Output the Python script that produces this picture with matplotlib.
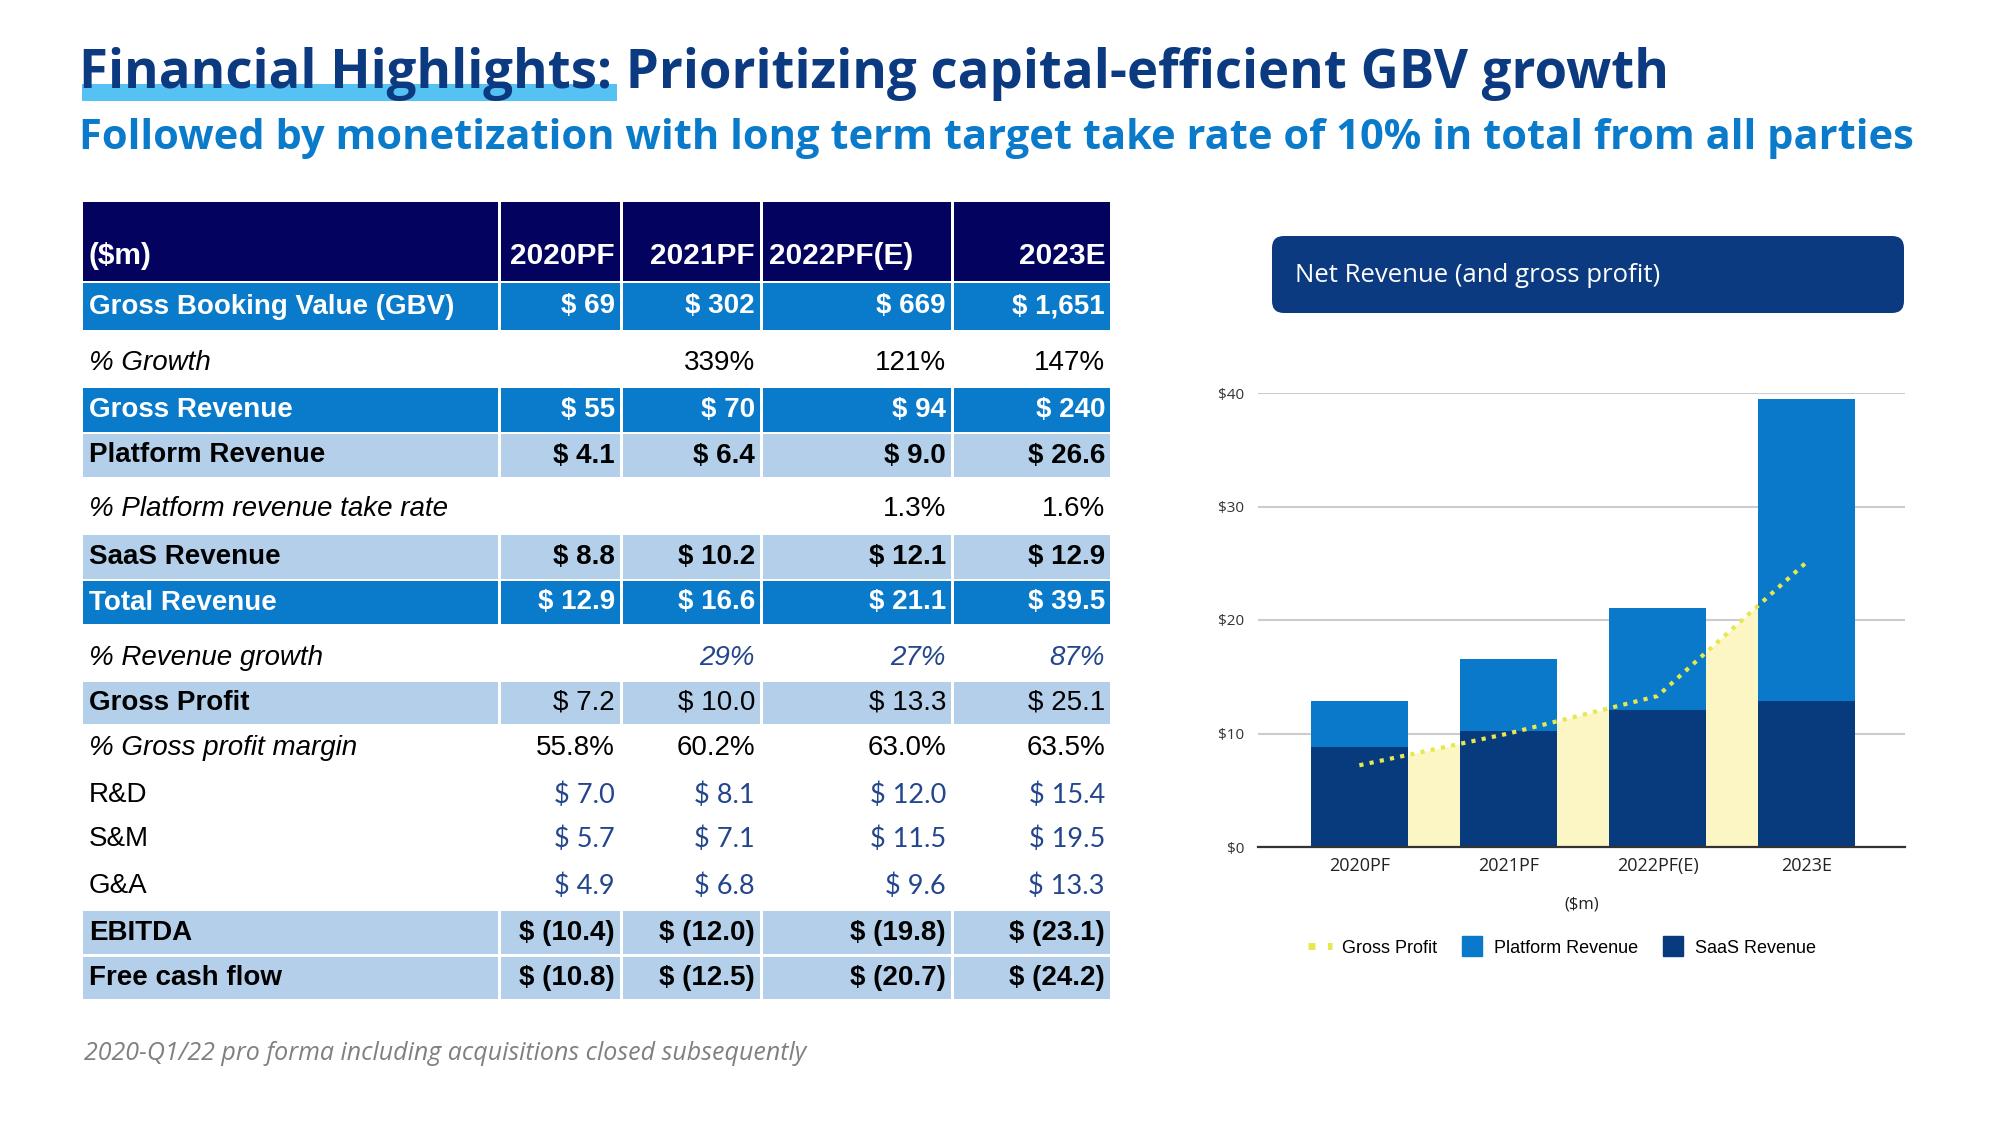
import matplotlib
matplotlib.use("Agg")
import matplotlib.pyplot as plt
from matplotlib.patches import Rectangle, FancyBboxPatch
from matplotlib.lines import Line2D

# ---------------- data ----------------
years = ["2020PF", "2021PF", "2022PF(E)", "2023E"]
saas_revenue = [8.8, 10.2, 12.1, 12.9]
platform_revenue = [4.1, 6.4, 9.0, 26.6]
gross_profit = [7.2, 10.0, 13.3, 25.1]
y_ticks = [0, 10, 20, 30, 40]
y_tick_labels = ["$0", "$10", "$20", "$30", "$40"]

table_header = ["($m)", "2020PF", "2021PF", "2022PF(E)", "2023E"]
row_labels = ["Gross Booking Value (GBV)", "% Growth", "Gross Revenue", "Platform Revenue",
              "% Platform revenue take rate", "SaaS Revenue", "Total Revenue", "% Revenue growth",
              "Gross Profit", "% Gross profit margin", "R&D", "S&M", "G&A", "EBITDA", "Free cash flow"]
gbv = ["$ 69", "$ 302", "$ 669", "$ 1,651"]
gbv_growth = ["", "339%", "121%", "147%"]
gross_rev = ["$ 55", "$ 70", "$ 94", "$ 240"]
platform_rev = ["$ 4.1", "$ 6.4", "$ 9.0", "$ 26.6"]
take_rate = ["", "", "1.3%", "1.6%"]
saas_rev = ["$ 8.8", "$ 10.2", "$ 12.1", "$ 12.9"]
total_rev = ["$ 12.9", "$ 16.6", "$ 21.1", "$ 39.5"]
rev_growth = ["", "29%", "27%", "87%"]
gross_profit_txt = ["$ 7.2", "$ 10.0", "$ 13.3", "$ 25.1"]
gp_margin = ["55.8%", "60.2%", "63.0%", "63.5%"]
rnd = ["$ 7.0", "$ 8.1", "$ 12.0", "$ 15.4"]
snm = ["$ 5.7", "$ 7.1", "$ 11.5", "$ 19.5"]
gna = ["$ 4.9", "$ 6.8", "$ 9.6", "$ 13.3"]
ebitda = ["$ (10.4)", "$ (12.0)", "$ (19.8)", "$ (23.1)"]
fcf = ["$ (10.8)", "$ (12.5)", "$ (20.7)", "$ (24.2)"]
row_values = [gbv, gbv_growth, gross_rev, platform_rev, take_rate, saas_rev, total_rev,
              rev_growth, gross_profit_txt, gp_margin, rnd, snm, gna, ebitda, fcf]

title = "Financial Highlights: Prioritizing capital-efficient GBV growth"
subtitle = "Followed by monetization with long term target take rate of 10% in total from all parties"
footnote = "2020-Q1/22 pro forma including acquisitions closed subsequently"
chart_title = "Net Revenue (and gross profit)"

# ---------------- styles ----------------
W, H = 2000, 1125
NAVY_HDR = "#03035F"
BLUE = "#0A7BCB"
LIGHT = "#B3CFE9"
VAL_BLUE = "#23468C"
TITLE_NAVY = "#0B3A80"
SUB_BLUE = "#0A7ACB"
SAAS_C = "#083A7E"
PLAT_C = "#0A79C9"
GP_FILL = "#FCF6C4"
GP_LINE = "#E6E84C"

fig = plt.figure(figsize=(20, 11.25), dpi=100)
bg = fig.add_axes([0, 0, 1, 1])
bg.set_xlim(0, W)
bg.set_ylim(H, 0)
bg.axis("off")

# Titles
bg.add_patch(Rectangle((82, 84), 535, 17, color="#56C2F4", zorder=1, lw=0))
bg.text(79, 88, title, fontsize=38, fontweight="bold", family="Open Sans",
        color=TITLE_NAVY, va="baseline", ha="left", zorder=2)
bg.text(79, 149, subtitle, fontsize=30, fontweight="bold", family="Open Sans",
        color=SUB_BLUE, va="baseline", ha="left", zorder=2)

# ---------------- table ----------------
col_x = [(83, 498), (501, 620), (623, 760), (763, 951), (954, 1110)]
# row layout: (top, bottom, fill, label style, value style)
row_layout = [
    (283, 330, BLUE, "wb", "wb"),
    (343, 383, None, "i", "r"),
    (388, 432, BLUE, "wb", "wb"),
    (434, 477, LIGHT, "b", "b"),
    (489, 529, None, "i", "r"),
    (535, 579, LIGHT, "b", "b"),
    (581, 624, BLUE, "wb", "wb"),
    (638, 678, None, "i", "bi"),
    (682, 724, LIGHT, "b", "r"),
    (728, 768, None, "i", "r"),
    (775, 815, None, "r", "cal"),
    (819, 859, None, "r", "cal"),
    (866, 906, None, "r", "cal"),
    (911, 954, LIGHT, "b", "b"),
    (957, 999, LIGHT, "b", "b"),
]
TS = 20


def text_kw(style, size=TS):
    kw = dict(family="Liberation Sans", fontsize=size, color="black", fontweight="normal",
              fontstyle="normal")
    if style == "wb":
        kw.update(color="white", fontweight="bold")
    elif style == "b":
        kw.update(fontweight="bold")
    elif style == "i":
        kw.update(fontstyle="italic")
    elif style == "bi":
        kw.update(fontstyle="italic", color=VAL_BLUE)
    elif style == "cal":
        kw.update(family="Lato", color=VAL_BLUE, fontsize=19.5)
    return kw


# header
hdr_top, hdr_bot = 202, 281
hdr_align = ["left", "right", "right", "left", "right"]
for j, (x0, x1) in enumerate(col_x):
    bg.add_patch(Rectangle((x0, hdr_top), x1 - x0, hdr_bot - hdr_top, color=NAVY_HDR, lw=0))
    tx = x0 + 6 if hdr_align[j] == "left" else x1 - 5
    bg.text(tx, 256, table_header[j], ha=hdr_align[j], va="center", **text_kw("wb", 21.5))

for i, (top, bot, fill, lst, vst) in enumerate(row_layout):
    yc = (top + bot) / 2
    if fill is not None:
        for (x0, x1) in col_x:
            bg.add_patch(Rectangle((x0, top), x1 - x0, bot - top, color=fill, lw=0))
    bg.text(89, yc, row_labels[i], ha="left", va="center", **text_kw(lst))
    for j, v in enumerate(row_values[i]):
        x1 = col_x[j + 1][1]
        bg.text(x1 - 5, yc, v, ha="right", va="center", **text_kw(vst))

bg.text(84, 1053, footnote, family="Open Sans", fontstyle="italic", fontsize=18,
        color="#808080", ha="left", va="center")

# ---------------- chart ----------------
bg.add_patch(FancyBboxPatch((1272, 236), 632, 77,
                            boxstyle="round,pad=0,rounding_size=12",
                            color=TITLE_NAVY, lw=0))
bg.text(1295, 275, chart_title, family="Open Sans", fontsize=18.5, color="white",
        ha="left", va="center")

ax_l, ax_r, ax_t, ax_b = 1258, 1905, 393, 847
ax = fig.add_axes([ax_l / W, 1 - ax_b / H, (ax_r - ax_l) / W, (ax_b - ax_t) / H])
ax.set_facecolor("none")
x = list(range(len(years)))
ax.fill_between(x, gross_profit, 0, color=GP_FILL, lw=0, zorder=1)
ax.bar(x, saas_revenue, width=0.65, color=SAAS_C, zorder=2, label="SaaS Revenue")
ax.bar(x, platform_revenue, bottom=saas_revenue, width=0.65, color=PLAT_C, zorder=2,
       label="Platform Revenue")
ax.plot(x, gross_profit, color=GP_LINE, lw=3, linestyle=(0, (1, 1.5)), zorder=3,
        label="Gross Profit")
ax.set_xlim(-0.68, 3.66)
ax.set_ylim(0, 40)
ax.set_yticks(y_ticks)
ax.set_yticklabels(y_tick_labels, family="Open Sans", fontsize=11, color="#333333")
ax.set_xticks(x)
ax.set_xticklabels(years, family="Open Sans", fontsize=13, color="#222222")
ax.tick_params(length=0, pad=10)
ax.tick_params(axis="x", pad=7)
ax.grid(axis="y", color="#CCCCCC", lw=1.5, zorder=0)
ax.set_axisbelow(True)
for s in ["top", "right", "left"]:
    ax.spines[s].set_visible(False)
ax.spines["bottom"].set_color("#333333")
ax.spines["bottom"].set_linewidth(1.6)
ax.spines["bottom"].set_zorder(4)
ax.set_xlabel("($m)", family="Open Sans", fontsize=12, color="#222222", labelpad=16)

handles = [Line2D([0], [0], color=GP_LINE, lw=5, linestyle=(0, (1, 1.8))),
           Line2D([0], [0], color=PLAT_C, marker="s", markersize=14, ls="none"),
           Line2D([0], [0], color=SAAS_C, marker="s", markersize=14, ls="none")]
ax.legend(handles, ["Gross Profit", "Platform Revenue", "SaaS Revenue"], ncol=3,
          loc="center", bbox_to_anchor=(0.47, (ax_b - 948) / (ax_b - ax_t)),
          frameon=False, prop={"family": "Liberation Sans", "size": 13},
          handlelength=1.3, handleheight=1.0, handletextpad=0.55, columnspacing=1.3)

fig.savefig("out.png", dpi=100)
